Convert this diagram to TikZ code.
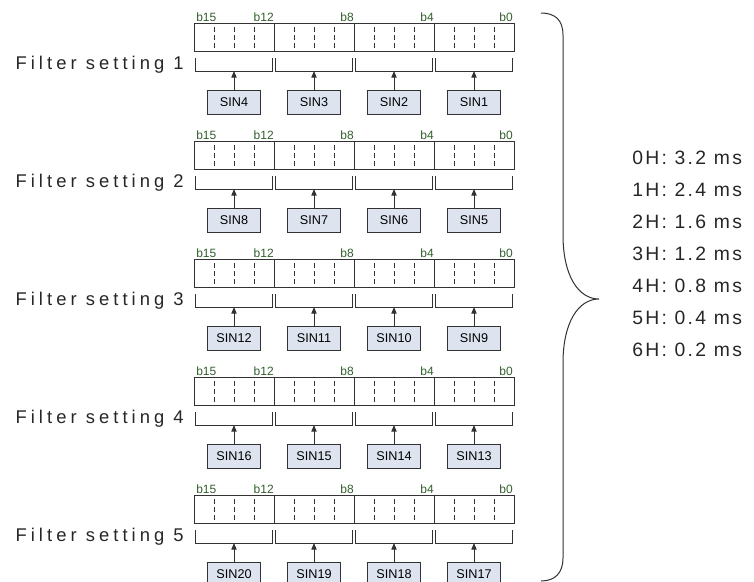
\documentclass[tikz,border=0pt]{standalone}
\usepackage{fontspec}
\setmainfont{Liberation Sans}
\newfontfamily\widefont[LetterSpace=22]{Liberation Sans}
\newfontfamily\valfont[LetterSpace=12]{Liberation Sans}
\usetikzlibrary{arrows.meta, positioning, calc}
\definecolor{bitgreen}{RGB}{50,95,45}
\definecolor{sinfill}{RGB}{221,228,240}
\definecolor{edge}{RGB}{50,50,50}
\tikzset{
  nib/.style={draw=edge, line width=0.75pt, minimum width=60pt, minimum height=21pt, inner sep=0pt},
  bitsep/.style={draw=edge, line width=0.75pt, dash pattern=on 3.75pt off 2.25pt},
  brk/.style={draw=edge, line width=0.75pt},
  sin/.style={draw=edge, line width=0.75pt, fill=sinfill, minimum width=39.75pt, minimum height=18pt, inner sep=0pt, font=\fontsize{9.5}{11}\selectfont},
  sig/.style={-{Triangle[width=4pt, length=5pt]}, draw=edge, line width=0.75pt},
  bitlab/.style={text=bitgreen, inner sep=0pt, font=\fontsize{9}{10}\selectfont},
  rowlab/.style={inner sep=0pt, text=black!85, font=\widefont\fontsize{13.8}{15}\selectfont},
  vlab/.style={inner sep=0pt, anchor=west, text=black!85, font=\valfont\fontsize{14.5}{16}\selectfont}
}
\begin{document}
\begin{tikzpicture}[x=0.75pt, y=-0.75pt]
  \useasboundingbox (0,0) rectangle (754,582);
  % five filter registers
  \foreach \r in {0,...,4} {
    \pgfmathsetmacro{\oy}{118*\r}
    \pgfmathtruncatemacro{\k}{\r+1}
    \node[rowlab, anchor=east] (f\r) at (184,\oy+65) {Filter setting \k};
    \node[bitlab, anchor=base west] (h\r) at (196,\oy+21) {b15};
    \node[bitlab, anchor=base east] (m\r) at (274,\oy+21) {b12};
    \node[bitlab, anchor=base east] (e\r) at (354,\oy+21) {b8};
    \node[bitlab, anchor=base east] (q\r) at (434,\oy+21) {b4};
    \node[bitlab, anchor=base east] (z\r) at (513,\oy+21) {b0};
    \foreach \g in {0,...,3} {
      \pgfmathsetmacro{\cx}{234+80*\g}
      \pgfmathtruncatemacro{\s}{4*\r+4-\g}
      \node[nib] (n\r\g) at (\cx,\oy+37) {};
      \foreach \d in {-20,0,20}
        \draw[bitsep] (\cx+\d,\oy+27) -- (\cx+\d,\oy+48);
      \draw[brk] (\cx-38.5,\oy+58) |- (\cx+38.5,\oy+71) -- (\cx+38.5,\oy+58);
      \coordinate (b\r\g) at (\cx,\oy+71);
      \node[sin] (s\r\g) at (\cx,\oy+102) {SIN\s};
      \draw[sig] (s\r\g) -- (b\r\g);
    }
  }
  % brace
  \draw[brk] (541,13) .. controls (555,13) and (563,20) .. (563,35)
    -- (563,235) .. controls (563,275) and (578,299) .. (599,299)
    .. controls (578,299) and (563,323) .. (563,363)
    -- (563,558) .. controls (563,573) and (555,581) .. (541,581);
  % filter times
  \foreach \v/\t [count=\i from 0] in {0H/3.2, 1H/2.4, 2H/1.6, 3H/1.2, 4H/0.8, 5H/0.4, 6H/0.2}
    \node[vlab] (v\i) at (632,158+32*\i) {\v: \t\ ms};
\end{tikzpicture}
\end{document}
